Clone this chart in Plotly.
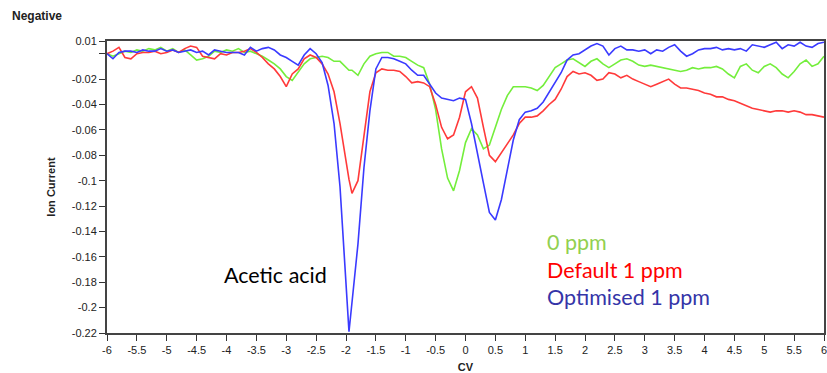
import plotly.graph_objects as go

cv = [-6.0, -5.9, -5.8, -5.7, -5.6, -5.5, -5.4, -5.3, -5.2, -5.1,
      -5.0, -4.9, -4.8, -4.7, -4.6, -4.5, -4.4, -4.3, -4.2, -4.1,
      -4.0, -3.9, -3.8, -3.7, -3.6, -3.5, -3.4, -3.3, -3.2, -3.1,
      -3.0, -2.9, -2.8, -2.7, -2.6, -2.5, -2.4, -2.3, -2.2, -2.1,
      -2.0, -1.95, -1.9, -1.8, -1.7, -1.6, -1.5, -1.4, -1.3, -1.2, -1.1,
      -1.0, -0.9, -0.8, -0.7, -0.6, -0.5, -0.4, -0.3, -0.2, -0.1,
      0.0, 0.1, 0.2, 0.3, 0.4, 0.5, 0.6, 0.7, 0.8, 0.9,
      1.0, 1.1, 1.2, 1.3, 1.4, 1.5, 1.6, 1.7, 1.8, 1.9,
      2.0, 2.1, 2.2, 2.3, 2.4, 2.5, 2.6, 2.7, 2.8, 2.9,
      3.0, 3.1, 3.2, 3.3, 3.4, 3.5, 3.6, 3.7, 3.8, 3.9,
      4.0, 4.1, 4.2, 4.3, 4.4, 4.5, 4.6, 4.7, 4.8, 4.9,
      5.0, 5.1, 5.2, 5.3, 5.4, 5.5, 5.6, 5.7, 5.8, 5.9, 6.0]

zero_ppm = [0.000, -0.002, 0.000, 0.002, 0.001, 0.003, 0.002, 0.004, 0.003, 0.005,
            0.002, 0.004, 0.001, 0.003, -0.001, -0.005, -0.004, -0.002, 0.002, 0.001,
            0.003, 0.002, 0.004, 0.001, 0.002, 0.000, -0.002, -0.005, -0.008, -0.012,
            -0.018, -0.021, -0.014, -0.008, -0.004, -0.003, -0.002, -0.003, -0.006, -0.006,
            -0.011, -0.013, -0.013, -0.017, -0.008, -0.002, 0.000, 0.001, 0.001, -0.002, -0.002,
            -0.003, -0.006, -0.009, -0.011, -0.024, -0.044, -0.075, -0.098, -0.108, -0.092,
            -0.070, -0.059, -0.064, -0.075, -0.072, -0.058, -0.044, -0.033, -0.026, -0.026,
            -0.026, -0.027, -0.029, -0.025, -0.018, -0.011, -0.008, -0.005, -0.004, -0.007,
            -0.010, -0.006, -0.004, -0.008, -0.011, -0.008, -0.005, -0.004, -0.006, -0.009,
            -0.010, -0.009, -0.010, -0.011, -0.012, -0.013, -0.014, -0.013, -0.011, -0.012,
            -0.011, -0.011, -0.010, -0.012, -0.016, -0.019, -0.010, -0.008, -0.013, -0.015,
            -0.010, -0.008, -0.011, -0.016, -0.019, -0.014, -0.008, -0.005, -0.010, -0.008, -0.002]

default_1ppm = [0.000, 0.002, 0.005, -0.003, -0.004, 0.000, 0.001, 0.001, 0.002, 0.000,
                0.001, 0.003, 0.001, 0.004, 0.006, 0.005, -0.002, -0.003, -0.004, 0.000,
                -0.001, 0.001, 0.001, 0.002, 0.004, 0.001, -0.003, -0.008, -0.012, -0.018,
                -0.026, -0.016, -0.012, -0.004, -0.001, -0.003, -0.008, -0.016, -0.030, -0.055,
                -0.085, -0.099, -0.110, -0.100, -0.065, -0.030, -0.015, -0.012, -0.013, -0.013, -0.014,
                -0.018, -0.023, -0.022, -0.023, -0.026, -0.040, -0.058, -0.067, -0.064, -0.050,
                -0.030, -0.026, -0.035, -0.058, -0.080, -0.085, -0.078, -0.072, -0.064, -0.055,
                -0.050, -0.050, -0.049, -0.045, -0.040, -0.036, -0.028, -0.018, -0.014, -0.016,
                -0.015, -0.017, -0.021, -0.020, -0.015, -0.016, -0.019, -0.017, -0.020, -0.022,
                -0.024, -0.026, -0.024, -0.022, -0.020, -0.024, -0.027, -0.027, -0.028, -0.029,
                -0.031, -0.032, -0.034, -0.034, -0.036, -0.037, -0.039, -0.041, -0.043, -0.044,
                -0.045, -0.046, -0.045, -0.045, -0.046, -0.045, -0.046, -0.048, -0.048, -0.049, -0.050]

optimised_1ppm = [0.000, -0.004, 0.001, 0.002, 0.002, 0.001, 0.003, 0.002, 0.002, 0.004,
                  0.002, 0.003, 0.001, 0.002, 0.003, 0.001, 0.002, -0.001, 0.003, 0.002,
                  0.001, 0.001, 0.001, -0.001, 0.005, 0.002, 0.004, 0.005, 0.003, -0.001,
                  -0.003, -0.006, -0.009, -0.001, 0.004, 0.000, -0.007, -0.025, -0.055, -0.105,
                  -0.183, -0.219, -0.196, -0.150, -0.090, -0.045, -0.012, -0.003, -0.003, -0.004, -0.006,
                  -0.008, -0.013, -0.017, -0.017, -0.024, -0.031, -0.035, -0.036, -0.037, -0.035,
                  -0.036, -0.055, -0.080, -0.102, -0.125, -0.131, -0.115, -0.090, -0.068, -0.052,
                  -0.046, -0.045, -0.043, -0.038, -0.030, -0.022, -0.015, -0.005, -0.001, 0.000,
                  0.003, 0.006, 0.008, 0.006, -0.001, 0.004, 0.006, 0.003, 0.003, 0.002,
                  0.003, 0.000, 0.003, 0.002, 0.005, 0.007, 0.002, -0.002, 0.000, 0.003,
                  0.004, 0.004, 0.005, 0.003, 0.004, 0.003, 0.004, 0.002, 0.007, 0.006,
                  0.005, 0.007, 0.009, 0.004, 0.007, 0.006, 0.009, 0.006, 0.005, 0.008, 0.009]

x_tick_vals = [-6, -5.5, -5, -4.5, -4, -3.5, -3, -2.5, -2, -1.5, -1, -0.5, 0,
               0.5, 1, 1.5, 2, 2.5, 3, 3.5, 4, 4.5, 5, 5.5, 6]
x_tick_text = ["-6", "-5.5", "-5", "-4.5", "-4", "-3.5", "-3", "-2.5", "-2", "-1.5", "-1", "-0.5", "0",
               "0.5", "1", "1.5", "2", "2.5", "3", "3.5", "4", "4.5", "5", "5.5", "6"]
y_tick_vals = [0.01, 0, -0.02, -0.04, -0.06, -0.08, -0.1, -0.12, -0.14, -0.16, -0.18, -0.2, -0.22]
y_tick_text = ["0.01", "", "-0.02", "-0.04", "-0.06", "-0.08", "-0.1", "-0.12", "-0.14",
               "-0.16", "-0.18", "-0.2", "-0.22"]

series_names = ["0 ppm", "Default 1 ppm", "Optimised 1 ppm"]
series_values = [zero_ppm, default_1ppm, optimised_1ppm]
line_colors = ["#74EE3C", "#FF3A3A", "#3A3AFF"]
label_colors = ["#92D050", "#FF0000", "#3535A8"]

fig = go.Figure()
for name, vals, col in zip(series_names, series_values, line_colors):
    fig.add_trace(go.Scatter(x=cv, y=vals, mode="lines", name=name,
                             line=dict(color=col, width=1.6)))

tick_font = dict(family="Liberation Sans Narrow, Liberation Sans, sans-serif", size=11, color="#222")
title_font = dict(family="Liberation Sans", size=11, color="#222")

fig.update_layout(
    width=827, height=373,
    margin=dict(l=107, r=3, t=41, b=40),
    paper_bgcolor="white", plot_bgcolor="white",
    showlegend=False,
    xaxis=dict(range=[-6, 6], tickvals=x_tick_vals, ticktext=x_tick_text,
               ticks="outside", ticklen=6, tickcolor="#333", tickwidth=1,
               showgrid=False, zeroline=False, showline=True, linecolor="#444",
               linewidth=2, mirror=True, tickfont=tick_font, automargin=False,
               ticklabeloverflow="allow",
               title=dict(text="<b>CV</b>", font=title_font, standoff=11)),
    yaxis=dict(range=[-0.22, 0.01], tickvals=y_tick_vals, ticktext=y_tick_text,
               ticks="outside", ticklen=6, tickcolor="#333", tickwidth=1,
               showgrid=False, zeroline=False, showline=True, linecolor="#444",
               linewidth=2, mirror=True, tickfont=tick_font, automargin=False,
               ticklabeloverflow="allow",
               title=dict(text="<b>Ion Current</b>", font=title_font, standoff=14)),
)

fig.add_annotation(text="<b>Negative</b>", xref="paper", yref="paper", x=-0.135, y=1.086,
                   xanchor="left", yanchor="middle", showarrow=False,
                   font=dict(family="Liberation Sans Narrow, Liberation Sans", size=12, color="#222"))

fig.add_annotation(text="Acetic acid", xref="x", yref="y", x=-4.075, y=-0.174,
                   xanchor="left", yanchor="middle", showarrow=False,
                   font=dict(family="Lato", size=21.5, color="black"))

label_y = [-0.148, -0.170, -0.192]
for name, ly, col in zip(series_names, label_y, label_colors):
    fig.add_annotation(text=name, xref="x", yref="y", x=1.33, y=ly,
                       xanchor="left", yanchor="middle", showarrow=False,
                       font=dict(family="Lato", size=21.5, color=col))

fig.write_html("out.html")
